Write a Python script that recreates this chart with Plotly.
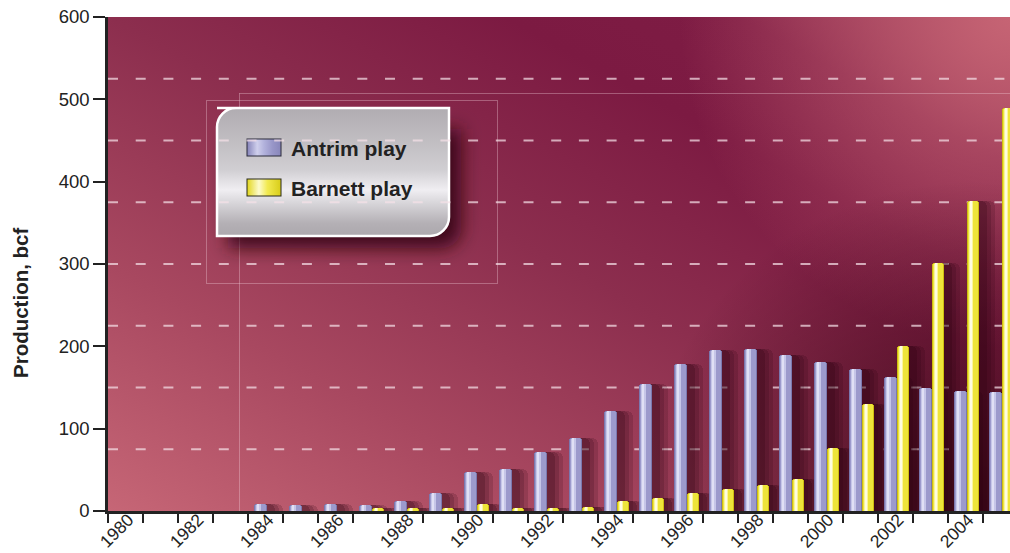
import base64
import plotly.graph_objects as go

# ---- data -------------------------------------------------------------
years = list(range(1980, 2006))
antrim = [0, 0, 0, 0, 8, 7, 8, 7, 12, 22, 47, 51, 72, 89, 122, 154,
          179, 196, 197, 189, 181, 173, 163, 150, 146, 145]
barnett = [0, 0, 0, 0, 0, 0, 0, 4, 4, 4, 9, 4, 4, 5, 12, 16,
           22, 27, 31, 39, 76, 130, 201, 301, 376, 489]
label_years = list(range(1980, 2005, 2))
y_ticks = [0, 100, 200, 300, 400, 500, 600]
grid_levels = [75, 150, 225, 300, 375, 450, 525]
series_names = ["Antrim play", "Barnett play"]

# ---- geometry ---------------------------------------------------------
W, H = 1010, 553
L, R, T, B = 108, 0, 17, 42
PW, PH = W - L - R, H - T - B
PX_PER_YEAR = 35.0
x0 = 1979.5
x1 = x0 + PW / PX_PER_YEAR


def u(px):
    return px / PX_PER_YEAR


def paper_x(px):
    return (px - L) / PW


def paper_y(py):
    return (T + PH - py) / PH


# ---- background artwork (plot area gradient + legend panel) -----------
svg = f"""<svg xmlns="http://www.w3.org/2000/svg" width="{PW}" height="{PH}" viewBox="0 0 {PW} {PH}">
<defs>
 <linearGradient id="bg" x1="0" y1="1" x2="1" y2="0">
  <stop offset="0" stop-color="#c66676"/>
  <stop offset="0.25" stop-color="#a84860"/>
  <stop offset="0.5" stop-color="#8c2e4e"/>
  <stop offset="0.72" stop-color="#7c1a42"/>
  <stop offset="0.85" stop-color="#7e1c44"/>
  <stop offset="1" stop-color="#9a3a58"/>
 </linearGradient>
 <radialGradient id="tr" cx="{PW}" cy="0" r="330" gradientUnits="userSpaceOnUse">
  <stop offset="0" stop-color="#c66474" stop-opacity="1"/>
  <stop offset="1" stop-color="#c66474" stop-opacity="0"/>
 </radialGradient>
 <radialGradient id="br" cx="{PW - 40}" cy="{PH}" r="330" gradientUnits="userSpaceOnUse">
  <stop offset="0" stop-color="#30000f" stop-opacity="0.8"/>
  <stop offset="0.6" stop-color="#30000f" stop-opacity="0.32"/>
  <stop offset="1" stop-color="#30000f" stop-opacity="0"/>
 </radialGradient>
 <linearGradient id="panel" x1="0" y1="0" x2="0" y2="1">
  <stop offset="0" stop-color="#b0acb1"/>
  <stop offset="0.25" stop-color="#c0bdc1"/>
  <stop offset="0.48" stop-color="#d0ced2"/>
  <stop offset="0.64" stop-color="#f0eef2"/>
  <stop offset="0.74" stop-color="#d8d6da"/>
  <stop offset="0.9" stop-color="#b4b0b5"/>
  <stop offset="1" stop-color="#aca8ad"/>
 </linearGradient>
 <linearGradient id="swA" x1="0" y1="0" x2="1" y2="0">
  <stop offset="0" stop-color="#8482b8"/>
  <stop offset="0.3" stop-color="#cfcfec"/>
  <stop offset="0.5" stop-color="#b2b2dc"/>
  <stop offset="0.75" stop-color="#9896c8"/>
  <stop offset="1" stop-color="#8886ba"/>
 </linearGradient>
 <linearGradient id="swB" x1="0" y1="0" x2="1" y2="0">
  <stop offset="0" stop-color="#e2d61c"/>
  <stop offset="0.35" stop-color="#fdfbcc"/>
  <stop offset="0.6" stop-color="#f2ea50"/>
  <stop offset="1" stop-color="#d8cc18"/>
 </linearGradient>
 <filter id="blur" x="-30%" y="-30%" width="160%" height="160%">
  <feGaussianBlur stdDeviation="9"/>
 </filter>
</defs>
<rect x="0" y="0" width="{PW}" height="{PH}" fill="url(#bg)"/>
<rect x="0" y="0" width="{PW}" height="{PH}" fill="url(#tr)"/>
<rect x="0" y="0" width="{PW}" height="{PH}" fill="url(#br)"/>
<g fill="none" stroke="#f4d0dc" stroke-opacity="0.35" stroke-width="1">
 <rect x="98.5" y="83.5" width="291" height="183"/>
 <path d="M131.5 76 V{PH} M131.5 76.5 H{PW}"/>
</g>
<path d="M130 112 H353 V212 A19 19 0 0 1 334 231 H120 V131 A19 19 0 0 1 139 112 Z"
      fill="#300010" fill-opacity="0.85" filter="url(#blur)"/>
<path d="M109 91 H341 V200 A19 19 0 0 1 322 219 H109 V110 A19 19 0 0 1 128 91 Z"
      fill="url(#panel)" stroke="#ffffff" stroke-width="2.5"/>
<rect x="139" y="122" width="34" height="17" fill="url(#swA)" stroke="#2a2a3a" stroke-width="1"/>
<rect x="139" y="162" width="34" height="17" fill="url(#swB)" stroke="#2a2a1a" stroke-width="1"/>
</svg>"""
bg_uri = "data:image/svg+xml;base64," + base64.b64encode(svg.encode()).decode()

fig = go.Figure()

# soft shadows cast to the right of each column
ANTRIM_LEFT, BARNETT_LEFT, BAR_W = -11.7, 1.0, 12.7
for values, left in ((antrim, ANTRIM_LEFT), (barnett, BARNETT_LEFT)):
    for grow, alpha in ((14, 0.16), (10, 0.18), (6, 0.22)):
        fig.add_bar(x=years, y=values, offset=u(left + 2), width=u(BAR_W + grow),
                    marker=dict(color=f"rgba(40,0,15,{alpha})", line_width=0,
                                cornerradius=6),
                    showlegend=False, hoverinfo="skip")

# cylinder-shaded columns: edge, body, highlight, core
palettes = {
    "Antrim play": ["#7b78ae", "#9c9acc", "#c6c6e8", "#e0e0f5"],
    "Barnett play": ["#cdbd10", "#eee43a", "#faf59c", "#fffde0"],
}
layers = [(0.0, BAR_W, 3), (1.0, BAR_W - 2.0, 3), (2.6, 4.2, 2), (3.4, 2.0, 1)]
for name, values, left in ((series_names[0], antrim, ANTRIM_LEFT),
                           (series_names[1], barnett, BARNETT_LEFT)):
    for (dx, w, cr), col in zip(layers, palettes[name]):
        fig.add_bar(x=years, y=values, offset=u(left + dx), width=u(w), name=name,
                    marker=dict(color=col, line_width=0, cornerradius=cr),
                    showlegend=False, hoverinfo="skip")

# dashed horizontal guides
shapes = [dict(type="line", xref="paper", yref="y", x0=0, x1=1, y0=g, y1=g,
               layer="below",
               line=dict(color="rgba(245,225,232,0.72)", width=2, dash="10px,17.7px"))
          for g in grid_levels]

font = "Liberation Sans, Arial, Helvetica, sans-serif"
annotations = [
    dict(text="<b>Production, bcf</b>", textangle=-90, xref="paper", yref="paper",
         x=paper_x(20), y=paper_y(303), xanchor="center", yanchor="middle",
         showarrow=False, font=dict(family=font, size=20.5, color="#222222")),
]
for name, py in zip(series_names, (148, 188)):
    annotations.append(dict(text=f"<b>{name}</b>", xref="paper", yref="paper",
                            x=paper_x(289), y=paper_y(py), xanchor="left",
                            yanchor="middle", showarrow=False,
                            font=dict(family=font, size=21, color="#222222")))

fig.update_layout(
    width=W, height=H, barmode="overlay", bargap=0,
    margin=dict(l=L, r=R, t=T, b=B, autoexpand=False),
    paper_bgcolor="white", plot_bgcolor="rgba(0,0,0,0)",
    font=dict(family=font, color="#222222"),
    showlegend=False,
    images=[dict(source=bg_uri, xref="paper", yref="paper", x=0, y=1,
                 sizex=1, sizey=1, xanchor="left", yanchor="top",
                 sizing="stretch", layer="below")],
    shapes=shapes,
    annotations=annotations,
    xaxis=dict(range=[x0, x1], tickmode="array", tickvals=label_years,
               ticktext=[str(y) for y in label_years], tickangle=-45,
               ticks="", showgrid=False, zeroline=False,
               showline=True, linecolor="#222222", linewidth=2.5,
               ticklabelstandoff=-11, ticklabelshift=3,
               tickfont=dict(size=17.5, color="#222222"),
               minor=dict(ticks="outside", tick0=x0, dtick=1, ticklen=9,
                          tickwidth=2, tickcolor="#222222", showgrid=False)),
    yaxis=dict(range=[0, 600], tickmode="array", tickvals=y_ticks,
               ticks="outside", ticklen=12, tickwidth=2, tickcolor="#222222",
               showgrid=False, zeroline=False, showline=True,
               linecolor="#222222", linewidth=2.5,
               tickfont=dict(size=18.5, color="#222222")),
)

fig.write_html("out.html")
